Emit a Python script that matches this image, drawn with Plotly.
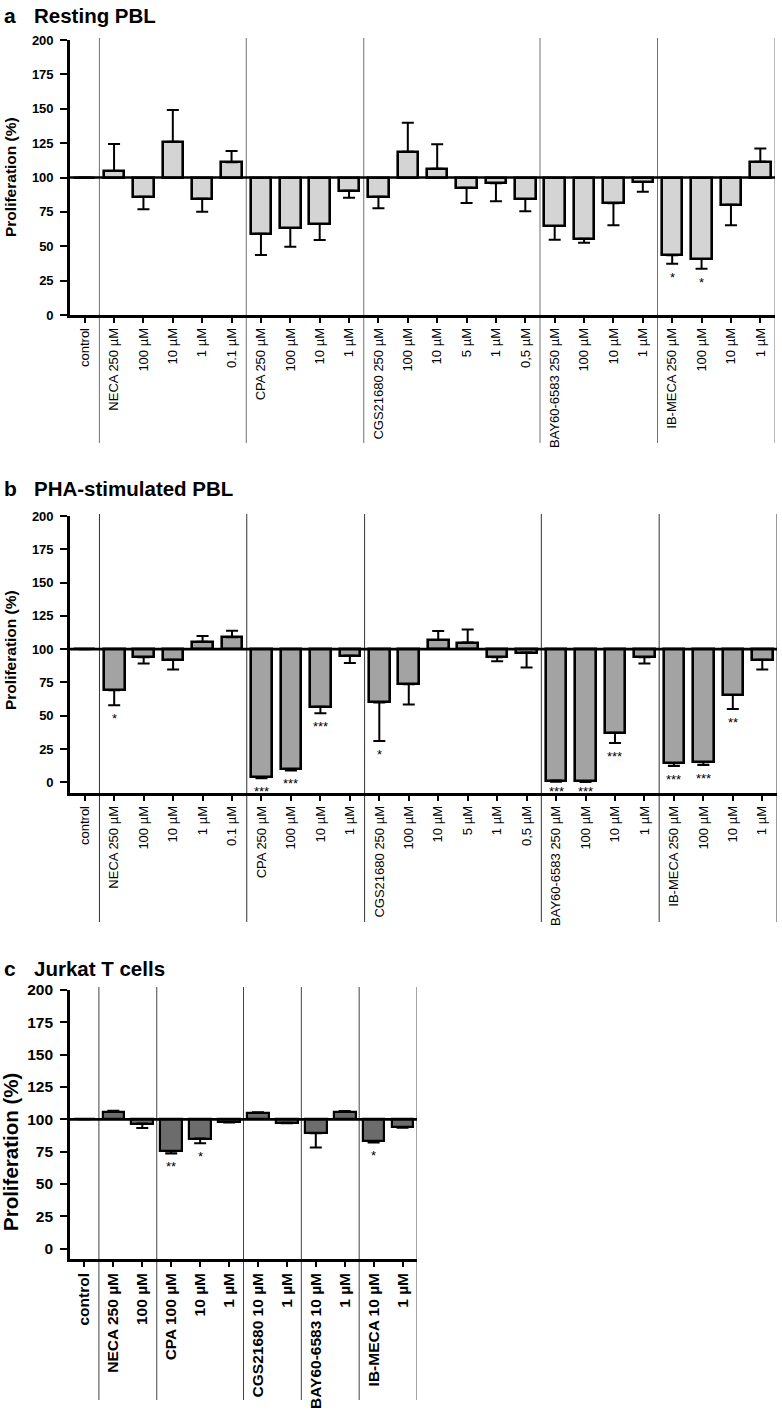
import plotly.graph_objects as go

# ---------------- data ----------------
labels_ab = ["control", "NECA 250 µM", "100 µM", "10 µM", "1 µM", "0.1 µM",
             "CPA 250 µM", "100 µM", "10 µM", "1 µM",
             "CGS21680 250 µM", "100 µM", "10 µM", "5 µM", "1 µM", "0,5 µM",
             "BAY60-6583 250 µM", "100 µM", "10 µM", "1 µM",
             "IB-MECA 250 µM", "100 µM", "10 µM", "1 µM"]
groups_ab = [1, 5, 4, 6, 4, 4]

values_a = [100, 104.7, 86, 126, 84.6, 111, 59, 63.3, 66.2, 90.4, 86, 118.8,
            106.4, 92.6, 95.8, 84.4, 64.7, 55.5, 81.2, 96.7, 43.4, 40.7, 80.2, 111.5]
err_a = [0, 19.7, 9.1, 23, 9.6, 8.3, 15.4, 13.6, 11.7, 5.1, 8.4, 21.1,
         17.7, 11.1, 13.1, 9, 9.9, 2.9, 16, 7, 6.1, 7, 15, 9.5]
stars_a = ["", "", "", "", "", "", "", "", "", "", "", "",
           "", "", "", "", "", "", "", "", "*", "*", "", ""]

values_b = [100, 69.1, 94, 92, 105.5, 109, 4.1, 9.9, 56.8, 95, 60, 73.6,
            106.8, 105, 94, 97.5, 1.3, 1.0, 37.2, 94, 14.3, 15, 65.6, 92]
err_b = [0, 11.3, 4.8, 7.3, 4.3, 4.8, 1, 1, 5, 5.3, 29, 15.1,
         6.8, 9.8, 3, 11.3, 0.8, 0.7, 7.6, 4.8, 2, 2, 10.6, 7.3]
stars_b = ["", "*", "", "", "", "", "***", "***", "***", "", "*", "",
           "", "", "", "", "***", "***", "***", "", "***", "***", "**", ""]

labels_c = ["control", "NECA 250 µM", "100 µM", "CPA 100 µM", "10 µM", "1 µM",
            "CGS21680 10 µM", "1 µM", "BAY60-6583 10 µM", "1 µM",
            "IB-MECA 10 µM", "1 µM"]
groups_c = [1, 2, 3, 2, 2, 2]
values_c = [100, 105.9, 96.7, 75.4, 85.1, 98, 105, 97.4, 89.2, 105.9, 83.3, 94.1]
err_c = [0, 0.8, 3.4, 1.8, 3.6, 0.5, 0.5, 0.4, 11, 0.6, 1.3, 0.6]
stars_c = ["", "", "", "**", "*", "", "", "", "", "", "*", ""]

titles = [("a", "Resting PBL"), ("b", "PHA-stimulated PBL"), ("c", "Jurkat T cells")]
y_ticks = [0, 25, 50, 75, 100, 125, 150, 175, 200]

# ---------------- layout constants ----------------
W, H = 782, 1412
FONT = "Liberation Sans, Arial, Helvetica, sans-serif"
STAR_GAP = 10      # gap (data units) between error-bar end and star
STAR_FLOOR = -6.5  # lowest position for a star label


def py(pix):
    return 1 - pix / H


panels = [
    dict(labels=labels_ab, groups=groups_ab, values=values_a, err=err_a, stars=stars_a,
         xdom=[70 / W, 775 / W], ydom=[py(315), py(40)], yrange=[0, 200],
         sep=(443, 38), color="#d4d4d4", bw=0.7, lw=2.6,
         xfont=dict(size=13, family=FONT, color="black"),
         yfont=dict(size=13, family=FONT, color="black", weight="bold"),
         ytitle_size=15.5, ytitle_y=177, title_y=15, sepcolor="#707070"),
    dict(labels=labels_ab, groups=groups_ab, values=values_b, err=err_b, stars=stars_b,
         xdom=[70 / W, 777 / W], ydom=[py(793), py(516)], yrange=[-8, 200],
         sep=(922, 514), color="#a3a3a3", bw=0.7, lw=2.6,
         xfont=dict(size=13, family=FONT, color="black"),
         yfont=dict(size=13, family=FONT, color="black", weight="bold"),
         ytitle_size=15.5, ytitle_y=650, title_y=488, sepcolor="#333333"),
    dict(labels=labels_c, groups=groups_c, values=values_c, err=err_c, stars=stars_c,
         xdom=[70 / W, 417 / W], ydom=[py(1259), py(990)], yrange=[-8, 200],
         sep=(1400, 987), color="#6c6c6c", bw=0.75, lw=2.2,
         xfont=dict(size=15.5, family=FONT, color="black", weight="bold"),
         yfont=dict(size=15.5, family=FONT, color="black", weight="bold"),
         ytitle_size=20.5, ytitle_y=1152, title_y=968, sepcolor="#444444"),
]

fig = go.Figure()
shapes = []
annotations = []

for k, p in enumerate(panels):
    n = len(p["labels"])
    xs = list(range(n))
    xa = "x" if k == 0 else f"x{k+1}"
    ya = "y" if k == 0 else f"y{k+1}"
    deltas = [v - 100 for v in p["values"]]
    plus = [e if v >= 100 else 0 for v, e in zip(p["values"], p["err"])]
    minus = [e if v < 100 else 0 for v, e in zip(p["values"], p["err"])]
    fig.add_trace(go.Bar(
        x=xs, y=deltas, base=100, width=p["bw"], xaxis=xa, yaxis=ya,
        marker=dict(color=p["color"], line=dict(color="black", width=p["lw"])),
        error_y=dict(type="data", symmetric=False, array=plus, arrayminus=minus,
                     color="black", thickness=2, width=6),
        hoverinfo="skip", showlegend=False,
    ))

    axname_x = "xaxis" if k == 0 else f"xaxis{k+1}"
    axname_y = "yaxis" if k == 0 else f"yaxis{k+1}"
    fig.update_layout({
        axname_x: dict(domain=p["xdom"], range=[-0.5, n - 0.5], anchor=ya,
                       tickmode="array", tickvals=xs, ticktext=p["labels"],
                       tickangle=-90, ticks="outside", ticklen=5, tickwidth=2,
                       tickcolor="black", showline=True, linewidth=2.6,
                       linecolor="black", showgrid=False, zeroline=False,
                       tickfont=p["xfont"], fixedrange=True, automargin=False),
        axname_y: dict(domain=p["ydom"], range=p["yrange"], anchor=xa,
                       tickmode="array", tickvals=y_ticks, ticks="outside",
                       ticklen=7, tickwidth=2, tickcolor="black", showline=True,
                       linewidth=2.6, linecolor="black", showgrid=False,
                       zeroline=False, tickfont=p["yfont"], ticklabelstandoff=4,
                       fixedrange=True, automargin=False),
    })

    # horizontal reference line at 100
    shapes.append(dict(type="line", xref=f"{xa} domain", yref=ya, x0=0, x1=1,
                       y0=100, y1=100, line=dict(color="black", width=2.6),
                       layer="above"))
    # group separators
    pos = -0.5
    for g in p["groups"]:
        pos += g
        shapes.append(dict(type="line", xref=xa, yref="paper", x0=pos, x1=pos,
                           y0=py(p["sep"][0]), y1=py(p["sep"][1]),
                           line=dict(color=p["sepcolor"], width=1), layer="below"))
    # significance stars
    for i, s in enumerate(p["stars"]):
        if s:
            sy = max(p["values"][i] - p["err"][i] - STAR_GAP, STAR_FLOOR)
            annotations.append(dict(x=i, y=sy, xref=xa, yref=ya,
                                    text=s, showarrow=False, yanchor="middle",
                                    font=dict(size=13, family=FONT, color="black")))
    # y title
    annotations.append(dict(x=10 / W, y=py(p["ytitle_y"]), xref="paper", yref="paper",
                            text="Proliferation (%)", textangle=-90, showarrow=False,
                            xanchor="center", yanchor="middle",
                            font=dict(size=p["ytitle_size"], family=FONT, color="black",
                                      weight="bold")))
    # panel title
    letter, title = titles[k]
    annotations.append(dict(x=2 / W, y=py(p["title_y"]), xref="paper", yref="paper",
                            text=letter, showarrow=False, xanchor="left", yanchor="middle",
                            font=dict(size=21, family=FONT, color="black", weight="bold")))
    annotations.append(dict(x=32 / W, y=py(p["title_y"]), xref="paper", yref="paper",
                            text=title, showarrow=False, xanchor="left", yanchor="middle",
                            font=dict(size=20.5, family=FONT, color="black", weight="bold")))

fig.update_layout(width=W, height=H, margin=dict(l=0, r=0, t=0, b=0, autoexpand=False),
                  plot_bgcolor="white", paper_bgcolor="white",
                  showlegend=False, bargap=0, shapes=shapes, annotations=annotations)

fig.write_html("out.html", config={"displayModeBar": False},
               post_script="document.body.style.margin='0';document.body.style.overflow='hidden';")
